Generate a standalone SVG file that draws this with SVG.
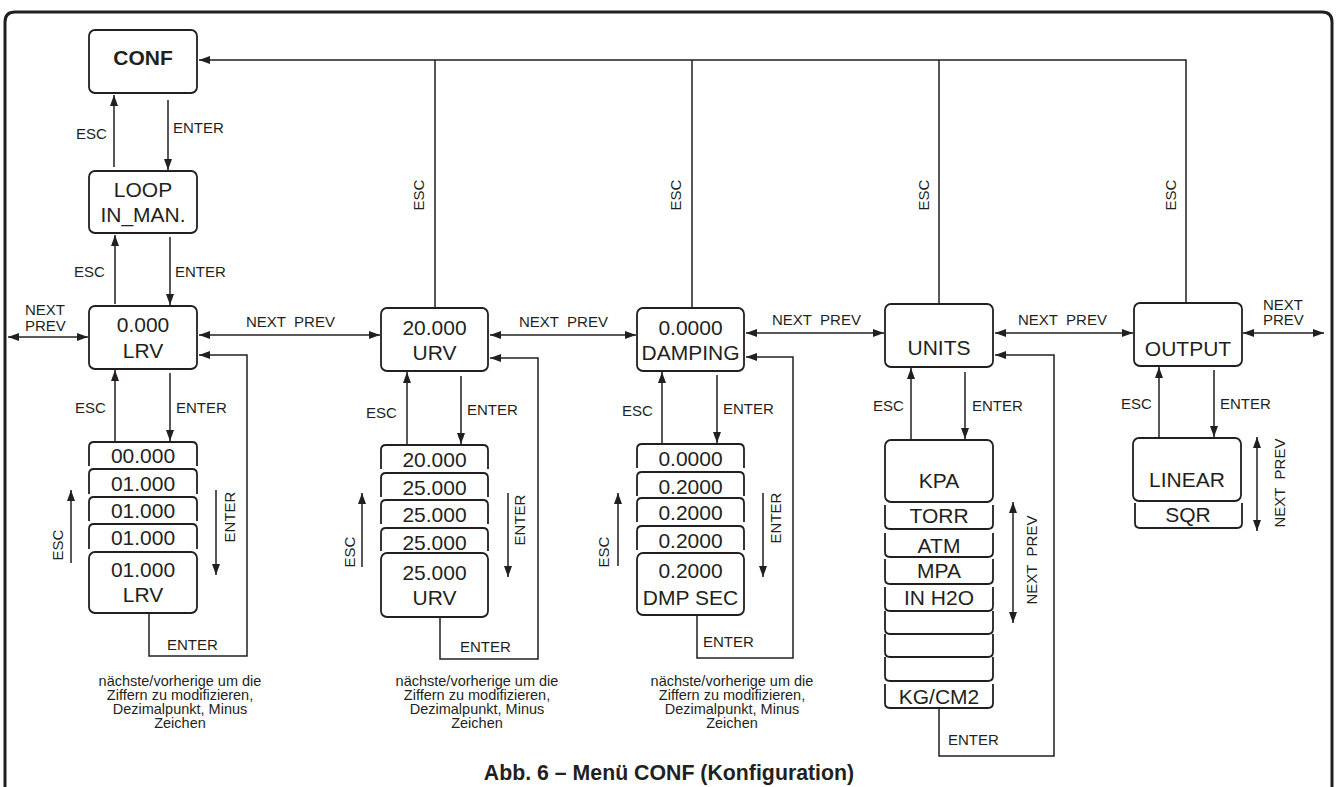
<svg xmlns="http://www.w3.org/2000/svg" width="1338" height="787" viewBox="0 0 1338 787">
<style>
text{font-family:"Liberation Sans",Arial,sans-serif;fill:#231f20}
.b{font-size:21px;text-anchor:middle}
.bb{font-size:21px;font-weight:bold;text-anchor:middle}
.l{font-size:15px}
.lr{font-size:15px;text-anchor:middle}
.np{font-size:15px;white-space:pre}
.cap{font-size:14.5px;text-anchor:middle}
.box{fill:#fff;stroke:#231f20;stroke-width:1.8}
.card{fill:none;stroke:#231f20;stroke-width:1.8}
.c{fill:none;stroke:#231f20;stroke-width:1.5}
.a{marker-end:url(#ah)}
.d{marker-start:url(#ah);marker-end:url(#ah)}
</style>
<defs>
<marker id="ah" viewBox="0 0 11 8" refX="11" refY="4" markerWidth="11" markerHeight="8" orient="auto-start-reverse" markerUnits="userSpaceOnUse">
<path d="M0,0 L11,4 L0,8 z" fill="#231f20"/>
</marker>
</defs>
<rect width="1338" height="787" fill="#fff"/>
<path d="M5,787 V22 Q5,12 15,12 H1322 Q1332,12 1332,22 V787" fill="none" stroke="#231f20" stroke-width="3"/>

<g id="connectors">
<path class="c a" d="M1186,303 V60 H199"/>
<path class="c" d="M435,308 V60"/>
<path class="c" d="M692,308 V60"/>
<path class="c" d="M939,304 V60"/>
<path class="c a" d="M114,167 V95"/>
<path class="c a" d="M168,100 V170"/>
<path class="c a" d="M115,304 V235"/>
<path class="c a" d="M170,237 V305"/>
<path class="c d" d="M8,337 H88"/>
<path class="c d" d="M199,335 H380"/>
<path class="c d" d="M490,335 H636"/>
<path class="c d" d="M746,333 H884"/>
<path class="c d" d="M995,333 H1133"/>
<path class="c d" d="M1243,333 H1324"/>
<path class="c a" d="M115,441 V370"/>
<path class="c a" d="M170,373 V441"/>
<path class="c a" d="M71,563 V490"/>
<path class="c a" d="M216,490 V575"/>
<path class="c a" d="M149,614 V656 H247 V355 H199"/>
<path class="c a" d="M407,444 V372"/>
<path class="c a" d="M461,376 V444"/>
<path class="c a" d="M362,567 V493"/>
<path class="c a" d="M508,493 V577"/>
<path class="c a" d="M440,618 V659 H538 V358 H490"/>
<path class="c a" d="M662,443 V372"/>
<path class="c a" d="M717,375 V443"/>
<path class="c a" d="M618,566 V493"/>
<path class="c a" d="M763,493 V577"/>
<path class="c a" d="M697,616 V658 H793 V357 H746"/>
<path class="c a" d="M911,439 V368"/>
<path class="c a" d="M965,372 V439"/>
<path class="c d" d="M1013,502 V623"/>
<path class="c a" d="M939,709 V756 H1054 V355 H995"/>
<path class="c a" d="M1159,437 V367"/>
<path class="c a" d="M1214,370 V437"/>
<path class="c d" d="M1257,437 V531"/>
</g>

<g id="labels">
<text class="l" x="76" y="139">ESC</text>
<text class="l" x="173" y="133">ENTER</text>
<text class="l" x="74" y="277">ESC</text>
<text class="l" x="175" y="277">ENTER</text>
<text class="l" x="75" y="413">ESC</text>
<text class="l" x="176" y="413">ENTER</text>
<text class="l" x="366" y="418">ESC</text>
<text class="l" x="467" y="415">ENTER</text>
<text class="l" x="622" y="416">ESC</text>
<text class="l" x="723" y="414">ENTER</text>
<text class="l" x="873" y="411">ESC</text>
<text class="l" x="972" y="411">ENTER</text>
<text class="l" x="1121" y="409">ESC</text>
<text class="l" x="1220" y="409">ENTER</text>
<text class="l" x="167" y="650">ENTER</text>
<text class="l" x="460" y="652">ENTER</text>
<text class="l" x="703" y="647">ENTER</text>
<text class="l" x="948" y="745">ENTER</text>
<text class="np" x="246" y="327">NEXT  PREV</text>
<text class="np" x="519" y="327">NEXT  PREV</text>
<text class="np" x="772" y="325">NEXT  PREV</text>
<text class="np" x="1018" y="325">NEXT  PREV</text>
<text class="l" x="25" y="315">NEXT</text>
<text class="l" x="25" y="331">PREV</text>
<text class="l" x="1263" y="310">NEXT</text>
<text class="l" x="1263" y="325">PREV</text>
<text class="lr" x="424" y="195" transform="rotate(-90 424 195)">ESC</text>
<text class="lr" x="681" y="195" transform="rotate(-90 681 195)">ESC</text>
<text class="lr" x="929" y="195" transform="rotate(-90 929 195)">ESC</text>
<text class="lr" x="1176" y="195" transform="rotate(-90 1176 195)">ESC</text>
<text class="lr" x="63" y="545" transform="rotate(-90 63 545)">ESC</text>
<text class="lr" x="235" y="517" transform="rotate(-90 235 517)">ENTER</text>
<text class="lr" x="355" y="552" transform="rotate(-90 355 552)">ESC</text>
<text class="lr" x="525" y="520" transform="rotate(-90 525 520)">ENTER</text>
<text class="lr" x="609" y="552" transform="rotate(-90 609 552)">ESC</text>
<text class="lr" x="781" y="518" transform="rotate(-90 781 518)">ENTER</text>
<text class="lr" x="1037" y="560" transform="rotate(-90 1037 560)" style="white-space:pre">NEXT  PREV</text>
<text class="lr" x="1285" y="483" transform="rotate(-90 1285 483)" style="white-space:pre">NEXT  PREV</text>
</g>

<g id="conf">
<rect class="box" x="89" y="30" width="108" height="63" rx="6"/>
<text class="bb" x="143" y="65">CONF</text>
</g>
<g id="loop">
<rect class="box" x="89" y="171" width="108" height="62" rx="6"/>
<text class="b" x="143" y="197">LOOP</text>
<text class="b" x="143" y="222">IN_MAN.</text>
</g>
<g id="lrv">
<rect class="box" x="89" y="306" width="108" height="63" rx="6"/>
<text class="b" x="143" y="332">0.000</text>
<text class="b" x="143" y="358">LRV</text>
</g>
<g id="lrv-stack">
<path class="card" d="M89,466 V447 Q89,442 94,442 H192 Q197,442 197,447 V466"/>
<text class="b" x="143" y="463">00.000</text>
<path class="card" d="M89,494 V474 Q89,469 94,469 H192 Q197,469 197,474 V494"/>
<text class="b" x="143" y="491">01.000</text>
<path class="card" d="M89,521 V502 Q89,497 94,497 H192 Q197,497 197,502 V521"/>
<text class="b" x="143" y="518">01.000</text>
<path class="card" d="M89,549 V529 Q89,524 94,524 H192 Q197,524 197,529 V549"/>
<text class="b" x="143" y="545">01.000</text>
<rect class="box" x="89" y="552" width="108" height="61" rx="6"/>
<text class="b" x="143" y="577">01.000</text>
<text class="b" x="143" y="602">LRV</text>
</g>
<g id="urv">
<rect class="box" x="381" y="308" width="107" height="63" rx="6"/>
<text class="b" x="434.5" y="335">20.000</text>
<text class="b" x="434.5" y="360">URV</text>
</g>
<g id="urv-stack">
<path class="card" d="M381,469 V450 Q381,445 386,445 H483 Q488,445 488,450 V469"/>
<text class="b" x="434.5" y="467">20.000</text>
<path class="card" d="M381,497 V478 Q381,473 386,473 H483 Q488,473 488,478 V497"/>
<text class="b" x="434.5" y="495">25.000</text>
<path class="card" d="M381,524 V505 Q381,500 386,500 H483 Q488,500 488,505 V524"/>
<text class="b" x="434.5" y="522">25.000</text>
<path class="card" d="M381,551 V533 Q381,528 386,528 H483 Q488,528 488,533 V551"/>
<text class="b" x="434.5" y="550">25.000</text>
<rect class="box" x="381" y="553" width="107" height="64" rx="6"/>
<text class="b" x="434.5" y="580">25.000</text>
<text class="b" x="434.5" y="605">URV</text>
</g>
<g id="damping">
<rect class="box" x="637" y="308" width="107" height="63" rx="6"/>
<text class="b" x="690.5" y="335">0.0000</text>
<text class="b" x="690.5" y="360">DAMPING</text>
</g>
<g id="damping-stack">
<path class="card" d="M637,468 V449 Q637,444 642,444 H739 Q744,444 744,449 V468"/>
<text class="b" x="690.5" y="466">0.0000</text>
<path class="card" d="M637,496 V477 Q637,472 642,472 H739 Q744,472 744,477 V496"/>
<text class="b" x="690.5" y="494">0.2000</text>
<path class="card" d="M637,522 V503 Q637,498 642,498 H739 Q744,498 744,503 V522"/>
<text class="b" x="690.5" y="520">0.2000</text>
<path class="card" d="M637,550 V531 Q637,526 642,526 H739 Q744,526 744,531 V550"/>
<text class="b" x="690.5" y="548">0.2000</text>
<rect class="box" x="637" y="553" width="107" height="62" rx="6"/>
<text class="b" x="690.5" y="578">0.2000</text>
<text class="b" x="690.5" y="605">DMP SEC</text>
</g>
<g id="units">
<rect class="box" x="885" y="304" width="108" height="63" rx="6"/>
<text class="b" x="939" y="355">UNITS</text>
</g>
<g id="units-list">
<rect class="box" x="885" y="440" width="108" height="62" rx="6"/>
<text class="b" x="939" y="488">KPA</text>
<path class="card" d="M885,505 V524 Q885,529 890,529 H988 Q993,529 993,524 V505"/>
<text class="b" x="939" y="523">TORR</text>
<path class="card" d="M885,533 V552 Q885,557 890,557 H988 Q993,557 993,552 V533"/>
<text class="b" x="939" y="553">ATM</text>
<path class="card" d="M885,559 V579 Q885,584 890,584 H988 Q993,584 993,579 V559"/>
<text class="b" x="939" y="578">MPA</text>
<path class="card" d="M885,587 V606 Q885,611 890,611 H988 Q993,611 993,606 V587"/>
<text class="b" x="939" y="605">IN H2O</text>
<path class="card" d="M885,611 V629 Q885,634 890,634 H988 Q993,634 993,629 V611"/>
<path class="card" d="M885,634 V652 Q885,657 890,657 H988 Q993,657 993,652 V634"/>
<path class="card" d="M885,657 V676 Q885,681 890,681 H988 Q993,681 993,676 V657"/>
<path class="card" d="M885,684 V703 Q885,708 890,708 H988 Q993,708 993,703 V684"/>
<text class="b" x="939" y="704">KG/CM2</text>
</g>
<g id="output">
<rect class="box" x="1134" y="303" width="108" height="63" rx="6"/>
<text class="b" x="1188" y="356">OUTPUT</text>
</g>
<g id="output-list">
<rect class="box" x="1133" y="438" width="108" height="63" rx="6"/>
<text class="b" x="1187" y="487">LINEAR</text>
<path class="card" d="M1135,503 V523 Q1135,528 1140,528 H1237 Q1242,528 1242,523 V503"/>
<text class="b" x="1188" y="522">SQR</text>
</g>

<g id="captions">
<text class="cap" x="180" y="686">nächste/vorherige um die</text>
<text class="cap" x="180" y="700">Ziffern zu modifizieren,</text>
<text class="cap" x="180" y="714">Dezimalpunkt, Minus</text>
<text class="cap" x="180" y="728">Zeichen</text>
<text class="cap" x="477" y="686">nächste/vorherige um die</text>
<text class="cap" x="477" y="700">Ziffern zu modifizieren,</text>
<text class="cap" x="477" y="714">Dezimalpunkt, Minus</text>
<text class="cap" x="477" y="728">Zeichen</text>
<text class="cap" x="732" y="686">nächste/vorherige um die</text>
<text class="cap" x="732" y="700">Ziffern zu modifizieren,</text>
<text class="cap" x="732" y="714">Dezimalpunkt, Minus</text>
<text class="cap" x="732" y="728">Zeichen</text>
</g>
<text id="title" x="669" y="780" style="font-size:21.3px;font-weight:bold;text-anchor:middle">Abb. 6 – Menü CONF (Konfiguration)</text>
</svg>
